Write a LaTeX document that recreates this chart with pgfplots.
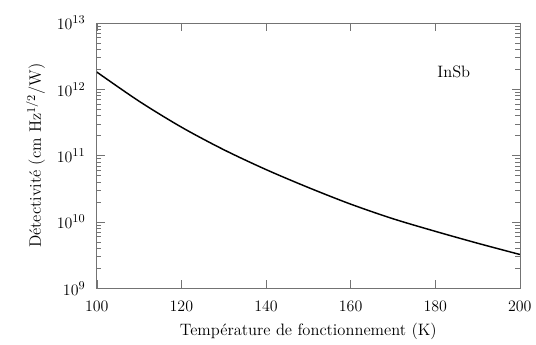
\documentclass[border=0pt]{standalone}
\usepackage{pgfplots}
\pgfplotsset{compat=1.18}
\begin{document}
\begin{tikzpicture}[x=1pt,y=1pt]
\begin{axis}[
  name=ax,
  at={(0,0)}, anchor=south west,
  scale only axis,
  width=318pt, height=199.5pt,
  xmin=100, xmax=200,
  ymode=log, ymin=1e9, ymax=1e13,
  xtick={100,120,140,160,180,200},
  ytick={1e9,1e10,1e11,1e12,1e13},
  tick align=inside,
  major tick length=6pt, minor tick length=3.5pt,
  axis line style={black!55, line width=0.5pt},
  every tick/.style={black!55, line width=0.4pt},
  tick label style={font=\fontsize{13}{15}\selectfont},
  xticklabel style={yshift=-6pt},
  yticklabel style={xshift=-5pt},
  label style={font=\fontsize{12.4}{14}\selectfont},
  xlabel={Température de fonctionnement (K)},
  ylabel={Détectivité (cm Hz$^{1/2}$/W)},
  xlabel style={yshift=-2pt},
  ylabel style={yshift=2pt},
]
\addplot[black, line width=1.1pt, smooth] coordinates {
 (100,1.82e12) (110,6.61e11) (120,2.69e11) (130,1.23e11)
 (140,6.17e10) (150,3.31e10) (160,1.86e10) (170,1.12e10)
 (180,7.24e9) (190,4.79e9) (200,3.24e9)
};
\node[font=\fontsize{12.4}{14}\selectfont] at (axis cs:184.4,1.8e12) {InSb};
\end{axis}
\path[use as bounding box] (ax.south west) ++(-72.75pt,-40.5pt) rectangle ++(402pt,257.25pt);
\end{tikzpicture}
\end{document}
